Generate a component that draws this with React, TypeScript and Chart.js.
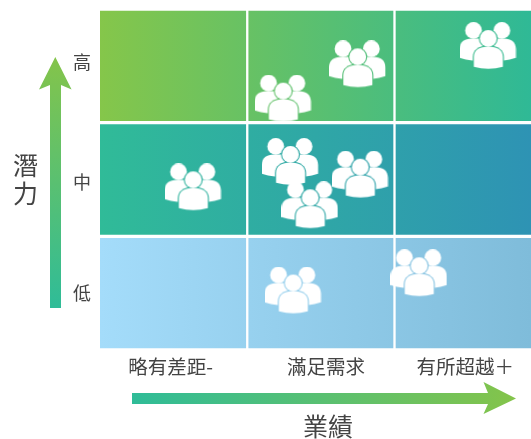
import { useEffect, useRef } from "react";
import { Chart, registerables } from "chart.js";

Chart.register(...registerables);

// Grid labels
const performanceLabels = ["略有差距-", "滿足需求", "有所超越＋"];
const potentialLabels = ["低", "中", "高"];
const performanceTickAt = [0.48, 1.535, 2.48];
const potentialTickAt = [0.5, 1.475, 2.53];

// People placed on the grid (performance, potential)
const personPerformance = [1.243, 1.749, 2.635, 1.292, 1.766, 1.426, 0.632, 1.311, 2.166];
const personPotential = [2.211, 2.513, 2.674, 1.654, 1.542, 1.273, 1.431, 0.523, 0.675];

const columnStarts = [0, 1, 2];
const rowStarts = [0, 1, 2];
const rowLeftColours = ["#a4dcfa", "#30bb98", "#85c64a"];
const rowRightColours = ["#7fbcda", "#2e93b4", "#2fb996"];

const X_MAX = 2.927;
const PLOT_LEFT = 100;
const PLOT_BOTTOM_GAP = 89;
const INK = "#444444";
const FONT = '"Noto Sans CJK TC", "Noto Sans", sans-serif';
const ARROW_START = "#2fbc98";
const ARROW_END = "#84c44a";

// Three-person pictogram, with a clear ring around the front figure
function makePeopleIcon(): HTMLCanvasElement {
  const c = document.createElement("canvas");
  c.width = 57;
  c.height = 48;
  const g = c.getContext("2d")!;
  const head = (x: number, y: number, r: number) => {
    g.beginPath();
    g.arc(x, y, r, 0, Math.PI * 2);
    g.fill();
  };
  const frontBody = (grow: number) => {
    g.beginPath();
    g.moveTo(14.3 - grow, 44.8 + grow);
    g.lineTo(14.3 - grow, 35);
    g.bezierCurveTo(14.3 - grow, 28, 20 - grow, 24.6 - grow, 28.8, 24.6 - grow);
    g.bezierCurveTo(37.5 + grow, 24.6 - grow, 43.3 + grow, 28, 43.3 + grow, 35);
    g.lineTo(43.3 + grow, 44.8 + grow);
    g.quadraticCurveTo(28.8, 48.6 + grow, 14.3 - grow, 44.8 + grow);
    g.closePath();
    g.fill();
  };
  g.fillStyle = "#ffffff";
  head(14, 8.4, 8.4);
  head(42.3, 8.4, 8.4);
  g.beginPath();
  g.moveTo(0, 35.8);
  g.lineTo(0, 27);
  g.bezierCurveTo(0, 20, 5, 16.6, 12, 16.6);
  g.lineTo(44.5, 16.6);
  g.bezierCurveTo(51.5, 16.6, 56.3, 20, 56.3, 27);
  g.lineTo(56.3, 35.8);
  g.quadraticCurveTo(50, 37.8, 44, 38.6);
  g.lineTo(13, 38.6);
  g.quadraticCurveTo(6, 37.8, 0, 35.8);
  g.closePath();
  g.fill();

  g.globalCompositeOperation = "destination-out";
  head(28.7, 16.4, 9.5);
  frontBody(1.1);
  g.globalCompositeOperation = "source-over";
  head(28.7, 16.4, 8.4);
  frontBody(0);
  return c;
}

// Arrows and axis titles drawn around the grid
const axisDecor = {
  id: "axisDecor",
  beforeDraw(chart: Chart) {
    const g = chart.ctx;
    g.save();

    const up = g.createLinearGradient(0, 308, 0, 57);
    up.addColorStop(0, ARROW_START);
    up.addColorStop(1, ARROW_END);
    g.fillStyle = up;
    g.beginPath();
    g.moveTo(50, 308);
    g.lineTo(50, 85);
    g.lineTo(39, 89.5);
    g.lineTo(55.3, 57);
    g.lineTo(71.6, 89.5);
    g.lineTo(61, 85);
    g.lineTo(61, 308);
    g.closePath();
    g.fill();

    const right = g.createLinearGradient(132, 0, 516, 0);
    right.addColorStop(0, ARROW_START);
    right.addColorStop(1, ARROW_END);
    g.fillStyle = right;
    g.beginPath();
    g.moveTo(132, 393);
    g.lineTo(488, 393);
    g.lineTo(483.5, 382);
    g.lineTo(516, 398.5);
    g.lineTo(483.5, 414);
    g.lineTo(488, 404);
    g.lineTo(132, 404);
    g.closePath();
    g.fill();

    g.fillStyle = INK;
    g.textAlign = "center";
    g.textBaseline = "middle";
    g.font = `25px ${FONT}`;
    g.fillText("潛", 25.5, 165.5);
    g.fillText("力", 25.5, 193.5);
    g.fillText("業績", 328, 426);
    g.restore();
  },
};

export default function App() {
  const ref = useRef<HTMLCanvasElement>(null);

  useEffect(() => {
    document.body.style.margin = "0";
    const icon = makePeopleIcon();

    const cells = rowStarts.map((row) => ({
      type: "bar" as const,
      grouped: false,
      order: 2,
      barThickness: (ref.current!.width - PLOT_LEFT) / X_MAX,
      borderColor: "#ffffff",
      borderSkipped: false as const,
      borderWidth: (c: any) => ({
        left: c.dataIndex === 0 ? 0 : 1.5,
        right: 1.5,
        top: 2,
        bottom: 2,
      }),
      backgroundColor: (c: any) => {
        const area = c.chart.chartArea;
        if (!area) return rowLeftColours[row];
        const g = c.chart.ctx.createLinearGradient(area.left, 0, area.right, 0);
        g.addColorStop(0, rowLeftColours[row]);
        g.addColorStop(1, rowRightColours[row]);
        return g;
      },
      data: columnStarts.map((col) => ({ x: col + 0.5, y: [row, row + 1] })),
    }));

    const chart = new Chart(ref.current!, {
      type: "bar",
      data: {
        datasets: [
          ...cells,
          {
            type: "scatter" as const,
            order: 1,
            pointStyle: icon,
            pointRadius: 28,
            data: personPerformance.map((x, i) => ({ x, y: personPotential[i] })),
          },
        ] as any,
      },
      options: {
        animation: false,
        responsive: false,
        layout: { autoPadding: false, padding: { top: 9, left: 0, right: 0, bottom: 0 } },
        plugins: { legend: { display: false }, tooltip: { enabled: false } },
        scales: {
          x: {
            type: "linear",
            min: 0,
            max: X_MAX,
            offset: false,
            border: { display: false },
            grid: { display: false, drawTicks: false },
            afterFit: (s: any) => {
              s.height = PLOT_BOTTOM_GAP;
              s.paddingLeft = 0;
              s.paddingRight = 0;
            },
            afterBuildTicks: (s: any) => {
              s.ticks = performanceTickAt.map((value) => ({ value }));
            },
            afterTickToLabelConversion: (s: any) => {
              s.ticks.forEach((t: any, i: number) => { t.label = performanceLabels[i]; });
            },
            ticks: {
              autoSkip: false,
              maxRotation: 0,
              padding: 5,
              color: INK,
              font: { family: FONT, size: 19.5 },
            },
          },
          y: {
            type: "linear",
            min: 0,
            max: 3,
            border: { display: false },
            grid: { display: false, drawTicks: false },
            afterFit: (s: any) => {
              s.width = PLOT_LEFT;
              s.paddingTop = 0;
              s.paddingBottom = 0;
            },
            afterBuildTicks: (s: any) => {
              s.ticks = potentialTickAt.map((value) => ({ value }));
            },
            afterTickToLabelConversion: (s: any) => {
              s.ticks.forEach((t: any, i: number) => { t.label = potentialLabels[i]; });
            },
            ticks: {
              autoSkip: false,
              padding: 9,
              color: INK,
              font: { family: FONT, size: 18 },
            },
          },
        },
      },
      plugins: [axisDecor],
    });
    return () => chart.destroy();
  }, []);

  return <canvas ref={ref} width={531} height={439} style={{ display: "block" }} />;
}
